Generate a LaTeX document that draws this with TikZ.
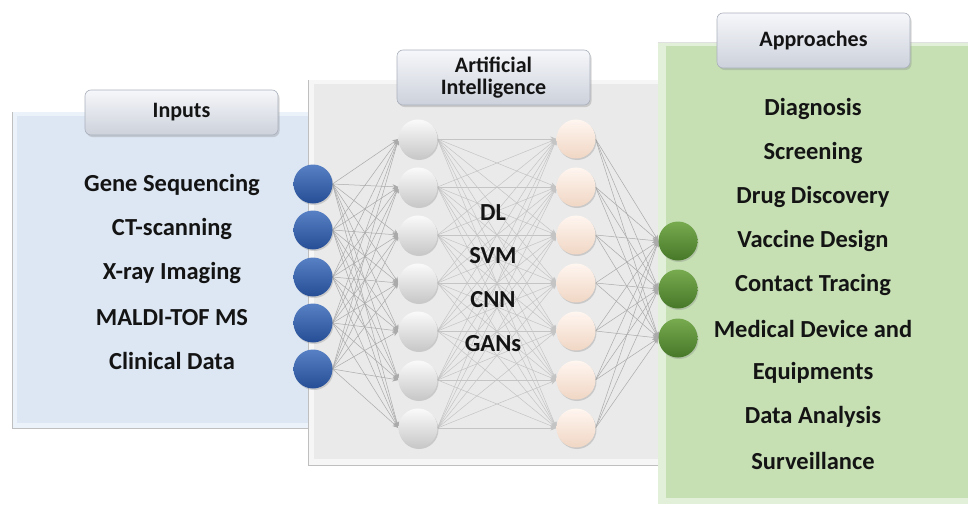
\documentclass[tikz,border=0pt]{standalone}
\usepackage{fontspec}
\setmainfont{Carlito}
\usetikzlibrary{arrows.meta,shadows}
\definecolor{bluePanel}{RGB}{220,231,243}
\definecolor{bluePanelEdge}{RGB}{236,242,249}
\definecolor{grayPanel}{RGB}{234,234,234}
\definecolor{grayPanelEdge}{RGB}{246,246,246}
\definecolor{greenPanel}{RGB}{198,224,180}
\definecolor{greenPanelEdge}{RGB}{226,240,217}
\definecolor{tabTop}{RGB}{246,247,250}
\definecolor{tabBot}{RGB}{204,209,219}
\definecolor{tabLine}{RGB}{170,176,188}
\definecolor{blueTop}{RGB}{88,128,196}
\definecolor{blueBot}{RGB}{38,78,150}
\definecolor{grayTop}{RGB}{250,250,250}
\definecolor{grayBot}{RGB}{200,200,200}
\definecolor{peachTop}{RGB}{255,246,240}
\definecolor{peachBot}{RGB}{240,214,196}
\definecolor{greenTop}{RGB}{120,170,80}
\definecolor{greenBot}{RGB}{70,120,40}
\definecolor{wire}{RGB}{170,170,170}
\definecolor{wireLight}{RGB}{196,196,196}
\definecolor{ink}{RGB}{20,20,20}
\begin{document}
\begin{tikzpicture}[x=1pt,y=-1pt,
  txt/.style={font=\bfseries\fontsize{24.5}{28}\selectfont, text=ink, inner sep=0pt},
  tabtxt/.style={font=\bfseries\fontsize{22}{26}\selectfont, text=ink, align=center},
  tab/.style={rounded corners=6pt, draw=tabLine, line width=0.6pt, top color=tabTop, bottom color=tabBot,
    minimum width=193pt, drop shadow={shadow xshift=1.5pt, shadow yshift=-2pt, opacity=0.3}},
  ball/.style={circle, minimum size=39pt, inner sep=0pt, draw=none,
    drop shadow={shadow xshift=1pt, shadow yshift=-1.5pt, opacity=0.3}},
  blueball/.style={ball, top color=blueTop, bottom color=blueBot},
  grayball/.style={ball, top color=grayTop, bottom color=grayBot},
  peachball/.style={ball, top color=peachTop, bottom color=peachBot},
  greenball/.style={ball, top color=greenTop, bottom color=greenBot},
  wireline/.style={draw=wire, line width=0.5pt, -{Stealth[length=6pt,width=5pt]}},
  wirelight/.style={wireline, draw=wireLight},
  shadowedge/.style={draw=black!25, line width=0.8pt}
]
\useasboundingbox (0,0) rectangle (968,506);

% ---------- Blue panel ----------
\fill[bluePanelEdge] (12,112) rectangle (330,428);
\fill[bluePanel] (17,116) rectangle (330,423);
\draw[shadowedge] (12,112) -- (12,428) -- (330,428);

% ---------- Gray panel ----------
\fill[grayPanelEdge] (308,80) rectangle (670,465);
\fill[grayPanel] (314,84) rectangle (670,459);
\draw[shadowedge] (308,80) -- (308,465) -- (670,465);

% ---------- Green panel ----------
\fill[greenPanelEdge] (658,42) rectangle (968,504);
\fill[greenPanel] (666,46) rectangle (968,498);
\draw[draw=black!12, line width=0.6pt] (658,42) -- (968,42);

% ---------- Tabs ----------
\node[tab, minimum height=45pt, tabtxt] (tabIn) at (181.5,112.5) {Inputs};
\node[tab, minimum height=55pt, tabtxt] (tabAI) at (493.5,77.5) {Artificial\\[-4pt]Intelligence};
\node[tab, minimum height=55pt, tabtxt] (tabAp) at (813.5,40.5) {Approaches};

% ---------- Network positions ----------
\foreach \i/\y in {1/184,2/230,3/277,4/323,5/369}
  \coordinate (pb\i) at (313,\y);
\foreach \i/\y in {1/139,2/187,3/235,4/283,5/331,6/380,7/428}{
  \coordinate (pg\i) at (418,\y);
  \coordinate (pp\i) at (576,\y);
}
\foreach \i/\y in {1/241,2/289,3/338}
  \coordinate (pr\i) at (678,\y);

% ---------- Connections ----------
\foreach \i in {1,...,5}
  \foreach \j in {1,...,7}
    \draw[wireline] ([xshift=19.5pt]pb\i) -- ([xshift=-19.5pt]pg\j);
\foreach \i in {1,...,7}
  \foreach \j in {1,...,7}
    \draw[wirelight] ([xshift=19.5pt]pg\i) -- ([xshift=-19.5pt]pp\j);
\foreach \i in {1,...,7}
  \foreach \j in {1,...,3}
    \draw[wireline] ([xshift=19.5pt]pp\i) -- ([xshift=-19.5pt]pr\j);

% ---------- Balls ----------
\foreach \i in {1,...,5}
  \node[blueball] (b\i) at (pb\i) {};
\foreach \i in {1,...,7}{
  \node[grayball] (g\i) at (pg\i) {};
  \node[peachball] (p\i) at (pp\i) {};
}
\foreach \i in {1,...,3}
  \node[greenball] (r\i) at (pr\i) {};

% ---------- Input texts ----------
\node[txt] (tIn1) at (172,185) {Gene Sequencing};
\node[txt] (tIn2) at (172,229) {CT-scanning};
\node[txt] (tIn3) at (172,273) {X-ray Imaging};
\node[txt] (tIn4) at (172,318) {MALDI-TOF MS};
\node[txt] (tIn5) at (172,361) {Clinical Data};

% ---------- Middle texts ----------
\node[txt] (tM1) at (493,213) {DL};
\node[txt] (tM2) at (493,256) {SVM};
\node[txt] (tM3) at (493,300) {CNN};
\node[txt] (tM4) at (493,344) {GANs};

% ---------- Approach texts ----------
\node[txt] (tA1) at (813,109) {Diagnosis};
\node[txt] (tA2) at (813,153) {Screening};
\node[txt] (tA3) at (813,197) {Drug Discovery};
\node[txt] (tA4) at (813,241) {Vaccine Design};
\node[txt] (tA5) at (813,285) {Contact Tracing};
\node[txt] (tA6) at (813,329) {Medical Device and};
\node[txt] (tA7) at (813,373) {Equipments};
\node[txt] (tA8) at (813,417) {Data Analysis};
\node[txt] (tA9) at (813,461) {Surveillance};
\end{tikzpicture}
\end{document}
